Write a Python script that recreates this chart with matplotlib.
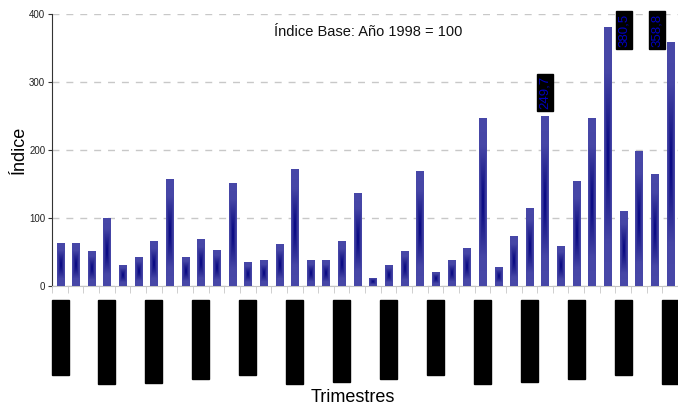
import matplotlib
matplotlib.use("Agg")
import matplotlib.pyplot as plt
import numpy as np
from matplotlib.colors import LinearSegmentedColormap

plt.rcParams['font.family'] = ['Liberation Sans', 'DejaVu Sans']

# valores del indice trimestral (1998 = 100)
indice = [63, 63, 52, 100, 31, 43, 66, 158, 43, 69, 53, 152,
          35, 38, 62, 172, 38, 38, 66, 137, 12, 31, 52, 169,
          21, 38, 56, 247, 28, 74, 115, 249.7, 59, 155, 247, 380.5,
          110, 199, 165, 358.8]

romanos = ["I", "II", "III", "IV"]
trimestres = [romanos[i % 4] + " Trim. " + str(1998 + i // 4) for i in range(len(indice))]

# etiquetas de valor que se muestran y su desplazamiento horizontal
etiquetas = {31: "249,7", 35: "380,5", 39: "358,8"}
desplaz = {31: 0.0, 35: 1.05, 39: -0.85}

fig = plt.figure(figsize=(6.78, 4.08), dpi=100)
ax = fig.add_axes([0.077, 0.299, 0.923, 0.667])

x = np.arange(len(indice))
barras = ax.bar(x, indice, width=0.45, color='#3c3ca0', zorder=2)

# degradado dentro de cada barra (oscuro al centro)
cmap = LinearSegmentedColormap.from_list('azul', ['#000080', '#24248f', '#4646a6', '#4848a8'])
gy, gx = np.mgrid[-1:1:60j, -1:1:12j]
grad = np.maximum(np.abs(gy), np.abs(gx) * 0.75)
for b in barras:
    x0 = b.get_x()
    w = b.get_width()
    h = b.get_height()
    im = ax.imshow(grad, extent=[x0, x0 + w, 0, h], aspect='auto', cmap=cmap,
                   vmin=0, vmax=1, zorder=3, interpolation='bilinear')
    im.set_clip_path(b)

ax.set_xlim(-0.5, len(indice) - 0.5)
ax.set_ylim(0, 400)
ax.set_yticks([0, 100, 200, 300, 400])
ax.yaxis.grid(True, linestyle=(0, (5, 5)), color='#c8c8c8', linewidth=1, zorder=0)
ax.set_axisbelow(True)

for s in ['top', 'right']:
    ax.spines[s].set_visible(False)
ax.spines['left'].set_color('#333333')
ax.spines['bottom'].set_color('#c4c4c4')
ax.tick_params(axis='y', labelsize=7, length=3, color='#333333', labelcolor='#222222', pad=2)

# marcas entre categorias
ax.set_xticks(np.arange(len(indice) + 1) - 0.5, minor=True)
ax.tick_params(axis='x', which='minor', length=5, color='#c8c8c8')
sel = list(range(0, len(indice), 3))
ax.set_xticks(sel)
ax.set_xticklabels([trimestres[i] for i in sel], rotation=90, fontsize=9.5, color='black',
                   bbox=dict(facecolor='black', edgecolor='black', pad=1.8))
ax.tick_params(axis='x', which='major', length=0, pad=12)

for i, txt in etiquetas.items():
    ax.text(i + desplaz[i], min(indice[i] + 10, 352), txt, rotation=90, ha='center', va='bottom',
            fontsize=9.5, color='#0000c0', clip_on=False, zorder=5,
            bbox=dict(facecolor='black', edgecolor='black', pad=1.5))

ax.text(0.505, 0.935, "Índice Base: Año 1998 = 100", transform=ax.transAxes,
        ha='center', va='center', fontsize=10.5, color='#111111')

ax.set_ylabel("Índice", fontsize=13, labelpad=1)
fig.text(0.52, 0.005, "Trimestres", ha='center', va='bottom', fontsize=13)

fig.savefig("out.png", dpi=100)
